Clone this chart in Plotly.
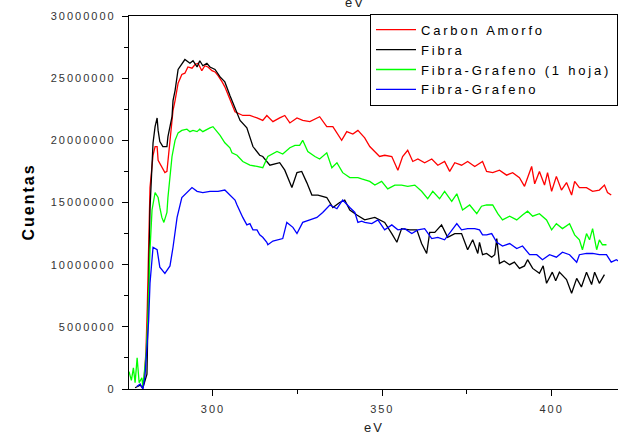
import plotly.graph_objects as go

# ---- data (eV, counts in millions) ----
carbon_ev = [279.0, 279.6, 280.2, 280.6, 281.4, 282.0, 282.3, 282.9, 283.5, 283.8, 284.9, 285.8, 286.4,
             286.7, 287.6, 288.2, 288.8, 289.7, 290.8, 291.7, 292.6, 293.8, 294.7, 295.6, 296.7, 297.6,
             298.5, 299.7, 300.6, 301.5, 302.7, 303.5, 304.4, 305.6, 306.5, 308.8, 310.9, 313.0, 314.7,
             315.9, 317.7, 319.7, 321.2, 322.7, 324.8, 326.5, 328.6, 331.5, 333.6, 335.4, 338.0, 339.5,
             341.3, 342.8, 344.8, 346.3, 347.8, 349.2, 350.7, 352.8, 354.6, 356.0, 357.5, 359.0, 360.5,
             362.5, 364.6, 366.4, 368.4, 369.9, 371.4, 373.4, 375.2, 377.3, 379.6, 380.8, 382.6, 384.6,
             386.7, 388.5, 390.5, 392.0, 394.1, 395.0, 396.4, 397.9, 398.8, 400.0, 401.4, 402.9, 404.4,
             405.9, 406.8, 408.2, 410.3, 412.1, 414.1, 415.6, 416.5, 417.6]
carbon_m = [0.1, 0.5, 3.0, 6.6, 16.2, 18.4, 18.8, 19.5, 19.5, 18.4, 17.9, 17.4, 17.5,
            18.4, 20.8, 22.4, 23.2, 24.6, 25.3, 25.4, 25.9, 25.8, 26.1, 26.2, 25.6, 26.0,
            25.9, 25.6, 25.5, 25.2, 24.7, 24.3, 23.7, 22.8, 22.3, 22.0, 22.0, 21.8, 21.6,
            22.0, 21.5, 21.8, 22.0, 21.4, 21.8, 21.6, 21.5, 21.9, 21.1, 21.1, 20.0, 20.7,
            20.5, 20.8, 20.2, 19.5, 19.1, 18.7, 18.8, 18.7, 17.6, 18.7, 19.2, 18.3, 18.5,
            18.2, 18.5, 18.0, 18.3, 17.5, 18.2, 18.0, 18.3, 17.9, 18.3, 17.5, 17.4, 17.6,
            17.2, 17.4, 17.0, 16.3, 17.9, 16.5, 17.5, 16.4, 17.4, 15.9, 17.1, 16.0, 16.6,
            15.6, 16.7, 16.2, 16.2, 15.9, 16.0, 16.4, 15.8, 15.6]

fibra_ev = [277.0, 278.5, 279.3, 279.9, 280.5, 281.4, 281.7, 282.3, 282.9, 283.5, 283.8, 284.3, 285.2,
            286.4, 286.7, 287.9, 288.2, 288.8, 289.7, 290.8, 291.7, 293.2, 294.1, 295.3, 296.1, 297.0,
            298.2, 299.1, 300.6, 302.1, 303.5, 305.0, 306.5, 308.0, 310.0, 311.8, 313.8, 314.7, 316.8,
            319.7, 321.2, 323.3, 324.8, 326.2, 327.7, 329.2, 331.0, 333.6, 335.4, 337.4, 338.9, 340.4,
            342.5, 344.8, 347.8, 350.7, 352.8, 354.3, 355.7, 358.1, 360.2, 361.6, 363.1, 364.0, 365.5,
            367.5, 369.3, 371.4, 373.4, 375.2, 376.7, 378.2, 378.7, 379.6, 380.8, 382.3, 383.2, 383.8,
            384.6, 386.0, 387.6, 389.0, 390.5, 392.0, 392.9, 394.4, 396.4, 397.5, 398.5, 400.2, 401.2,
            402.3, 404.4, 405.9, 407.4, 408.8, 410.3, 411.8, 412.7, 414.1, 415.6]
fibra_m = [0.1, 0.3, 0.1, 0.6, 1.2, 14.5, 16.0, 19.8, 21.1, 21.8, 20.8, 19.9, 19.5,
           19.5, 20.3, 21.9, 23.2, 24.0, 25.7, 26.2, 26.5, 26.2, 26.4, 25.9, 26.4, 26.0,
           26.2, 25.9, 25.7, 25.1, 24.7, 23.6, 22.6, 21.6, 21.0, 19.5, 18.8, 18.7, 18.0,
           18.2, 17.6, 16.2, 17.4, 17.5, 16.6, 15.6, 15.6, 15.4, 14.6, 15.0, 15.2, 14.4,
           14.0, 13.6, 13.8, 13.4, 12.5, 11.8, 12.9, 12.8, 12.8, 11.7, 10.9, 12.6, 12.6,
           13.2, 12.2, 12.5, 12.5, 11.2, 12.0, 10.9, 11.8, 10.8, 10.9, 10.6, 10.8, 12.1,
           10.1, 10.3, 10.0, 10.2, 9.7, 9.9, 10.4, 9.7, 9.3, 9.9, 8.5, 9.4, 8.7,
           9.4, 8.8, 7.7, 8.9, 8.2, 9.4, 8.4, 9.4, 8.5, 9.2]

grafeno1_ev = [275.2, 275.9, 276.5, 277.0, 277.6, 278.2, 279.0, 279.3, 280.2, 280.8, 281.4, 282.0, 282.9,
               283.8, 284.3, 284.9, 285.5, 286.4, 286.7, 287.3, 287.9, 288.8, 289.7, 290.8, 292.3, 293.2,
               294.1, 295.3, 296.1, 297.0, 298.2, 299.1, 300.0, 301.2, 302.1, 303.5, 305.0, 305.6, 307.1,
               308.8, 310.9, 313.0, 314.7, 316.2, 318.9, 320.6, 322.7, 324.2, 325.6, 326.5, 328.0, 330.1,
               331.5, 333.6, 335.1, 336.6, 338.3, 340.4, 342.8, 343.9, 346.3, 347.8, 349.8, 351.6, 353.7,
               355.7, 357.5, 359.6, 361.6, 363.4, 364.9, 366.9, 368.4, 370.5, 372.0, 373.7, 375.8, 377.9,
               379.3, 380.8, 382.6, 384.1, 385.5, 387.6, 389.7, 391.4, 392.9, 394.4, 396.4, 398.5, 400.0,
               401.4, 403.2, 405.3, 406.8, 408.2, 409.1, 410.3, 411.2, 412.1, 413.3, 414.1, 415.0, 416.2]
grafeno1_m = [1.4, 0.7, 1.7, 0.5, 2.5, 0.5, 0.9, 0.2, 2.6, 5.8, 11.2, 14.4, 15.8,
              15.4, 14.6, 13.8, 13.4, 14.2, 15.4, 17.1, 18.7, 20.0, 20.6, 20.8, 20.9, 20.7,
              20.8, 20.7, 20.9, 20.7, 20.9, 21.0, 21.1, 20.7, 20.4, 19.8, 19.4, 19.0, 18.8,
              18.3, 18.0, 17.9, 17.8, 18.7, 19.1, 18.9, 19.4, 19.6, 19.6, 20.0, 19.1, 18.7,
              18.5, 19.0, 17.8, 18.2, 17.4, 17.0, 17.0, 16.9, 16.7, 16.4, 16.7, 16.1, 16.4,
              16.4, 16.3, 16.4, 15.9, 15.3, 15.9, 15.3, 15.9, 15.1, 15.7, 14.4, 14.8, 14.1,
              14.7, 14.8, 14.8, 14.1, 13.6, 13.9, 13.6, 14.0, 14.3, 13.9, 14.1, 13.6, 12.8,
              13.3, 12.9, 13.3, 12.4, 12.0, 11.2, 12.5, 12.0, 12.9, 11.2, 12.0, 11.6, 11.6]

grafeno_ev = [277.5, 278.5, 279.3, 279.9, 280.5, 281.0, 281.4, 282.3, 283.5, 284.3, 285.8, 287.3, 288.2,
              289.4, 290.8, 292.3, 293.8, 295.3, 297.0, 299.1, 301.5, 303.5, 305.0, 306.5, 307.1, 308.0,
              308.8, 310.0, 310.9, 311.8, 313.0, 313.8, 314.7, 315.9, 316.2, 317.7, 318.9, 320.6, 321.8,
              323.6, 324.8, 326.5, 328.6, 330.7, 332.4, 334.5, 336.6, 338.3, 340.4, 341.9, 342.8, 343.9,
              344.8, 346.9, 348.7, 350.7, 352.8, 354.6, 356.6, 358.7, 360.5, 362.5, 364.6, 366.4, 368.4,
              370.5, 372.0, 373.4, 375.2, 377.3, 378.7, 379.6, 380.8, 382.3, 383.8, 385.5, 387.6, 389.7,
              391.4, 393.5, 395.6, 397.3, 399.4, 401.4, 403.2, 405.3, 407.4, 408.2, 410.3, 412.1, 414.1,
              416.2, 417.6, 419.1, 419.7]
grafeno_m = [0.2, 0.4, 0.0, 1.0, 3.4, 5.5, 8.5, 11.4, 11.2, 9.8, 9.3, 9.9, 11.4,
             13.8, 15.4, 15.8, 16.2, 15.9, 15.8, 15.9, 15.9, 16.0, 15.6, 15.2, 14.8, 14.2,
             13.8, 13.2, 13.3, 12.8, 12.8, 12.4, 12.2, 11.8, 11.6, 11.9, 12.0, 12.1, 13.4,
             13.0, 12.5, 13.4, 13.6, 13.8, 14.2, 14.8, 14.5, 15.2, 14.6, 14.2, 13.4, 13.5,
             13.4, 13.3, 13.6, 12.8, 13.2, 12.8, 12.9, 12.5, 12.8, 12.9, 12.1, 12.2, 12.0,
             12.8, 13.3, 12.8, 12.9, 12.9, 12.8, 12.4, 12.4, 12.5, 11.8, 11.5, 11.7, 11.3,
             11.5, 10.8, 10.8, 10.4, 10.8, 10.6, 11.0, 10.8, 10.2, 10.8, 10.9, 10.9, 10.8,
             10.8, 10.2, 10.4, 10.3]

series = [
    ("Carbon Amorfo", carbon_ev, carbon_m, "#ff0000"),
    ("Fibra", fibra_ev, fibra_m, "#000000"),
    ("Fibra-Grafeno (1 hoja)", grafeno1_ev, grafeno1_m, "#00ff00"),
    ("Fibra-Grafeno", grafeno_ev, grafeno_m, "#0000ff"),
]

fig = go.Figure()
for name, xs, ys, col in series:
    fig.add_trace(go.Scatter(x=xs, y=[v * 1e6 for v in ys], mode="lines", name=name,
                             line=dict(color=col, width=1.3)))

FONT = "Liberation Sans"
tick_font = dict(family=FONT, size=11, color="#333333")

fig.update_layout(
    width=618, height=436,
    margin=dict(l=129, r=0, t=16, b=47),
    paper_bgcolor="white", plot_bgcolor="white",
    showlegend=True,
    legend=dict(x=1.0, y=1.006, xanchor="right", yanchor="top",
                bordercolor="black", borderwidth=1, bgcolor="white",
                font=dict(family=FONT, size=12.99, color="black"),
                itemwidth=40, tracegroupgap=0),
    xaxis=dict(range=[275.2, 419.6], tickvals=[300, 350, 400], ticks="outside", ticklen=6,
               tickwidth=1, tickcolor="black", showline=True, linecolor="black", linewidth=1.2,
               mirror=True, showgrid=False, zeroline=False, tickfont=tick_font,
               ticklabelstandoff=4,
               minor=dict(ticks="outside", ticklen=4, tickcolor="black", tickvals=[325, 375])),
    yaxis=dict(range=[0, 30e6], tickvals=[0, 5e6, 10e6, 15e6, 20e6, 25e6, 30e6],
               ticktext=["0", "5000000", "10000000", "15000000", "20000000", "25000000", "30000000"],
               ticks="outside", ticklen=6, tickwidth=1, tickcolor="black",
               showline=True, linecolor="black", linewidth=1.2, showgrid=False, zeroline=False,
               tickfont=tick_font, ticklabelstandoff=4,
               minor=dict(ticks="outside", ticklen=4, tickcolor="black",
                          tickvals=[2.5e6, 7.5e6, 12.5e6, 17.5e6, 22.5e6, 27.5e6])),
    annotations=[
        dict(text="eV", xref="paper", yref="paper", x=0.5, y=-0.103, xanchor="center",
             yanchor="middle", showarrow=False, font=dict(family=FONT, size=13, color="#222")),
        dict(text="eV", xref="paper", yref="paper", x=0.462, y=1.036, xanchor="center",
             yanchor="middle", showarrow=False, font=dict(family=FONT, size=13, color="#222")),
        dict(text="<b>Cuentas</b>", xref="paper", yref="paper", x=-0.2065, y=0.5, xanchor="center",
             yanchor="middle", textangle=-90, showarrow=False,
             font=dict(family=FONT, size=16, color="black")),
    ],
)

post = (
    "document.body.style.margin='0';"
    "var s=document.createElement('style');"
    "s.innerHTML='svg text{letter-spacing:2px;} .legendtext{letter-spacing:2.8px !important;}';"
    "document.head.appendChild(s);"
    "var gd=document.getElementById('{plot_id}');"
    "Plotly.relayout(gd,{'legend.font.size':13});"
)

fig.write_html("out.html", post_script=post, config={"displayModeBar": False})
